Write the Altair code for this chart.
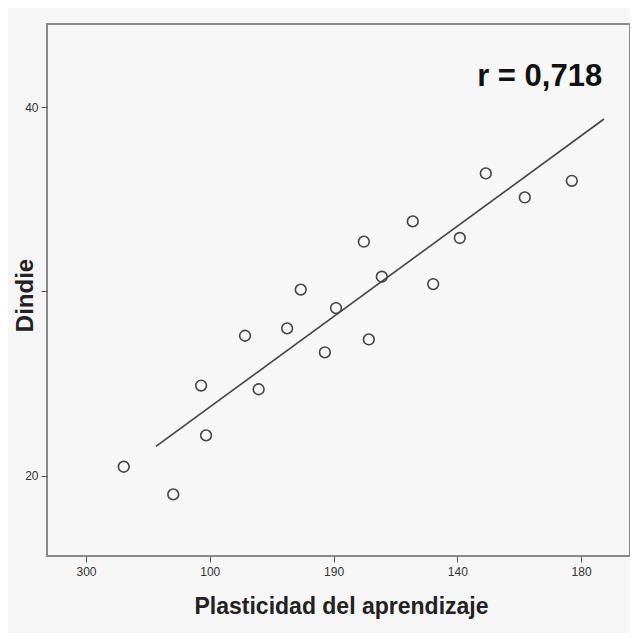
import altair as alt
import pandas as pd

# Data
plasticidad = [86.1, 94.1, 98.6, 99.4, 105.7, 107.9, 112.5, 114.7, 118.6, 120.4,
               124.9, 125.7, 127.8, 132.8, 136.1, 140.4, 144.6, 150.9, 158.5]
dindie = [20.5, 19.0, 24.9, 22.2, 27.6, 24.7, 28.0, 30.1, 26.7, 29.1,
          32.7, 27.4, 30.8, 33.8, 30.4, 32.9, 36.4, 35.1, 36.0]

fit_x = [91.3, 163.7]
fit_y = [21.6, 39.35]

x_tick_values = [80, 100, 120, 140, 160]
x_tick_labels = ["300", "100", "190", "140", "180"]
y_tick_values = [20, 30, 40]
y_tick_labels = ["20", "", "40"]

annot_text = ["r = 0,718"]
annot_x = [153.3]
annot_y = [41.6]

points = pd.DataFrame({"x": plasticidad, "y": dindie})
fit = pd.DataFrame({"x": fit_x, "y": fit_y})
annot = pd.DataFrame({"x": annot_x, "y": annot_y, "t": annot_text})

xlab = "{" + ",".join(f"'{v}':'{l}'" for v, l in zip(x_tick_values, x_tick_labels)) + "}"
ylab = "{" + ",".join(f"'{v}':'{l}'" for v, l in zip(y_tick_values, y_tick_labels)) + "}"

FONT = "Liberation Sans"
W, H = 583, 532

xscale = alt.Scale(domain=[73.7, 167.9], nice=False, zero=False)
yscale = alt.Scale(domain=[15.66, 44.5], nice=False, zero=False)

xaxis = alt.Axis(
    title="Plasticidad del aprendizaje", values=x_tick_values,
    labelExpr=f"{xlab}[''+datum.value]", grid=False, domain=False,
    tickColor="#555", tickSize=6, labelColor="#333", labelFontSize=12,
    labelFont=FONT, labelPadding=4,
    titleFont=FONT, titleFontSize=23, titleFontWeight="bold", titleColor="#222",
    titleX=294, titleY=50, titleAlign="center", titleBaseline="middle",
)
yaxis = alt.Axis(
    title="Dindie", values=y_tick_values,
    labelExpr=f"{ylab}[''+datum.value]", grid=False, domain=False,
    tickColor="#555", tickSize=6, labelColor="#333", labelFontSize=12,
    labelFont=FONT, labelPadding=3,
    titleFont=FONT, titleFontSize=24, titleFontWeight="bold", titleColor="#222",
    titleX=-22, titleY=271, titleAngle=-90, titleAlign="center", titleBaseline="middle",
)

pts = alt.Chart(points).mark_point(
    shape="circle", filled=False, size=115, strokeWidth=1.6, color="#444", opacity=1
).encode(
    x=alt.X("x:Q", scale=xscale, axis=xaxis),
    y=alt.Y("y:Q", scale=yscale, axis=yaxis),
)

line = alt.Chart(fit).mark_line(color="#444", strokeWidth=1.6).encode(
    x=alt.X("x:Q", scale=xscale),
    y=alt.Y("y:Q", scale=yscale),
)

txt = alt.Chart(annot).mark_text(
    font=FONT, fontSize=31, fontWeight="bold", color="#111",
    align="center", baseline="middle"
).encode(
    x=alt.X("x:Q", scale=xscale),
    y=alt.Y("y:Q", scale=yscale),
    text="t:N",
)

chart = alt.layer(pts, line, txt).properties(
    width=W, height=H,
    background="#f6f6f6",
    autosize=alt.AutoSizeParams(type="none"),
    padding={"left": 39, "top": 16, "right": 0, "bottom": 77},
).configure_view(stroke="#8a8a8a", strokeWidth=2, fill="#f7f7f7")

chart.save("out.html", embed_options={"renderer": "svg", "actions": False})
